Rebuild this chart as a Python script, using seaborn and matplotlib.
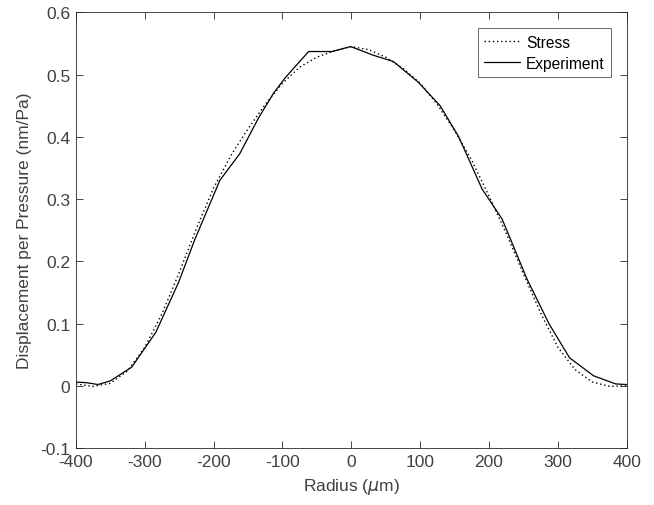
import numpy as np
import pandas as pd
import matplotlib
matplotlib.use("Agg")
import matplotlib.pyplot as plt
import seaborn as sns

# Data
stress_x = [-400, -375, -350, -325, -300, -275, -250, -225, -200, -175, -150, -125,
            -100, -75, -50, -25, 0, 25, 50, 75, 100, 125, 150, 175, 200, 225, 250,
            275, 300, 325, 350, 375, 400]
stress_y = [0.003, -0.001, 0.004, 0.024, 0.062, 0.116, 0.182, 0.253, 0.318, 0.370,
            0.413, 0.452, 0.486, 0.512, 0.528, 0.538, 0.545, 0.540, 0.528, 0.510,
            0.486, 0.452, 0.410, 0.362, 0.305, 0.245, 0.180, 0.117, 0.062, 0.026,
            0.006, -0.001, 0.000]

exp_x = [-400, -385, -368, -350, -319, -284, -251, -227, -191, -162, -135, -113,
         -96, -62, -28, -1, 32, 61, 97, 129, 156, 190, 219, 231, 255, 287, 317,
         352, 384, 400]
exp_y = [0.006, 0.005, 0.002, 0.008, 0.030, 0.086, 0.166, 0.236, 0.330, 0.373,
         0.430, 0.470, 0.495, 0.537, 0.537, 0.545, 0.531, 0.521, 0.488, 0.450,
         0.400, 0.316, 0.268, 0.236, 0.172, 0.100, 0.045, 0.016, 0.003, 0.002]

xticks = [-400, -300, -200, -100, 0, 100, 200, 300, 400]
yticks = [-0.1, 0, 0.1, 0.2, 0.3, 0.4, 0.5, 0.6]
ytick_labels = ["-0.1", "0", "0.1", "0.2", "0.3", "0.4", "0.5", "0.6"]

sns.set_theme(style="white")
plt.rcParams["font.family"] = ["Liberation Sans", "DejaVu Sans"]
plt.rcParams["axes.unicode_minus"] = False
plt.rcParams["mathtext.fontset"] = "dejavusans"

df_s = pd.DataFrame({"x": stress_x, "y": stress_y})
df_e = pd.DataFrame({"x": exp_x, "y": exp_y})

fig = plt.figure(figsize=(6.54, 5.06), dpi=100)
ax = fig.add_axes([0.1162, 0.1126, 0.8420, 0.8611])

sns.lineplot(data=df_s, x="x", y="y", ax=ax, color="black", linestyle=(0, (1, 2)),
             linewidth=1.0, label="Stress")
sns.lineplot(data=df_e, x="x", y="y", ax=ax, color="black", linestyle="-",
             linewidth=0.9, label="Experiment")

ax.set_xlim(-400, 400)
ax.set_ylim(-0.1, 0.6)
ax.set_xticks(xticks)
ax.set_xticklabels([str(v) for v in xticks])
ax.set_yticks(yticks)
ax.set_yticklabels(ytick_labels)

axcol = "#262626"
labcol = "#404040"
for s in ax.spines.values():
    s.set_color("#262626")
    s.set_linewidth(0.6)
ax.tick_params(direction="in", length=5, width=0.6, colors=axcol,
               labelcolor=labcol, labelsize=12.5, top=True, right=True,
               bottom=True, left=True, pad=4)

ax.set_xlabel(r"Radius ($\mu$m)", fontsize=12.5, color=labcol, labelpad=5)
ax.set_ylabel("Displacement per Pressure (nm/Pa)", fontsize=12.5, color=labcol, labelpad=6)

leg = ax.legend(loc="upper right", bbox_to_anchor=(0.9715, 0.963), fontsize=11.2,
                frameon=True, fancybox=False, handlelength=2.3, borderpad=0.4,
                labelspacing=0.4, handletextpad=0.4, borderaxespad=0)
leg.get_frame().set_edgecolor("#262626")
leg.get_frame().set_linewidth(0.6)
for t in leg.get_texts():
    t.set_color("black")

fig.savefig("out.png", dpi=100)
